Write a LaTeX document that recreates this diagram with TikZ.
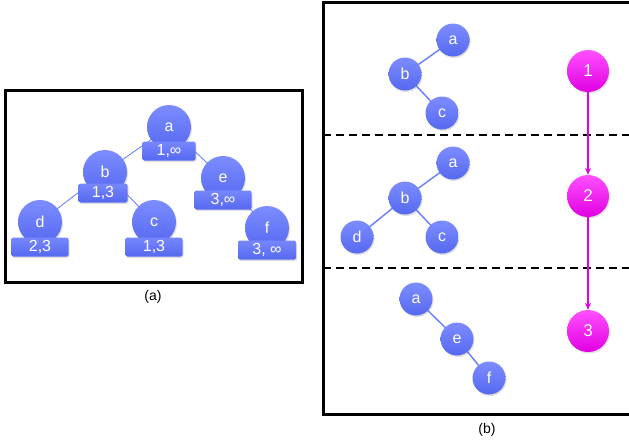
\documentclass[tikz,border=0pt]{standalone}
\usepackage{fontspec}
\setmainfont{Liberation Sans}
\usetikzlibrary{arrows.meta,shadows}
\definecolor{bltop}{RGB}{125,140,255}
\definecolor{blbot}{RGB}{85,105,240}
\definecolor{blline}{RGB}{110,130,250}
\definecolor{mgtop}{RGB}{255,80,255}
\definecolor{mgbot}{RGB}{225,0,225}
\tikzset{
  treenode/.style={circle,minimum size=#1,inner sep=0pt,top color=bltop,bottom color=blbot,
    draw=none,text=white,font=\fontsize{16}{16}\selectfont,
    drop shadow={opacity=0.25,shadow xshift=1pt,shadow yshift=-1.5pt}},
  treenode/.default=44pt,
  smallnode/.style={treenode=33pt,font=\fontsize{16}{16}\selectfont},
  tagbox/.style={rounded corners=2pt,minimum width=#1,minimum height=19pt,inner sep=0pt,
    top color=bltop!85!blbot,bottom color=blbot,draw=none,text=white,font=\fontsize{16}{16}\selectfont,
    drop shadow={opacity=0.25,shadow xshift=1pt,shadow yshift=-1.5pt}},
  tagbox/.default=53pt,
  stepnode/.style={circle,minimum size=42pt,inner sep=0pt,top color=mgtop,bottom color=mgbot,
    draw=none,text=white,font=\fontsize{17}{17}\selectfont,
    drop shadow={opacity=0.25,shadow xshift=1pt,shadow yshift=-1.5pt}},
  thinedge/.style={draw=blline,line width=0.9pt},
  edge/.style={draw=blline,line width=1.5pt},
  steparrow/.style={draw=mgbot,line width=1.5pt,-{Stealth[length=7pt,width=6pt]}},
  frame/.style={draw=black,line width=3pt},
  sep/.style={draw=black,line width=2.5pt,dash pattern=on 8pt off 5pt},
  caption/.style={font=\fontsize{14}{14}\selectfont,text=black}
}
\begin{document}
\begin{tikzpicture}[x=1pt,y=-1pt]
\useasboundingbox (0,0) rectangle (629,445);
% panel (a)
\node[caption] (capa) at (153,297) {(a)};
% tree edges (a)
\coordinate (pa) at (169,127);
\coordinate (pb) at (105,172);
\coordinate (pe) at (223,178);
\coordinate (pd) at (40,222);
\coordinate (pc) at (154,222);
\coordinate (pf) at (267,228);
\draw[thinedge] (pa) -- (pb);
\draw[thinedge] (pa) -- (pe);
\draw[thinedge] (pb) -- (pd);
\draw[thinedge] (pb) -- (pc);
\draw[thinedge] (pe) -- (pf);
\node[treenode] (na) at (pa) {a};
\node[treenode] (nb) at (pb) {b};
\node[treenode] (ne) at (pe) {e};
\node[treenode] (nd) at (pd) {d};
\node[treenode] (nc) at (pc) {c};
\node[treenode] (nf) at (pf) {f};
\node[tagbox] (ta) at (169,151) {1,∞};
\node[tagbox=49pt] (tb) at (103,193) {1,3};
\node[tagbox=57pt] (te) at (223,200) {3,∞};
\node[tagbox=57pt] (td) at (40,247) {2,3};
\node[tagbox=57pt] (tc) at (154,247) {1,3};
\node[tagbox=58pt] (tf) at (267,250) {3, ∞};
\draw[frame] (5,90) rectangle (302,282);
% panel (b)
\begin{scope}
\clip (0,0) rectangle (629,445);
\draw[frame] (323,2) rectangle (640,414);
\draw[sep] (323,135) -- (640,135);
\draw[sep] (323,268) -- (640,268);
\end{scope}
\node[caption] (capb) at (487,430) {(b)};
% top tree
\draw[edge] (453,40) -- (405,74) -- (442,113);
\node[smallnode] (ba1) at (453,40) {a};
\node[smallnode] (bb1) at (405,74) {b};
\node[smallnode] (bc1) at (442,113) {c};
% middle tree
\draw[edge] (453,163) -- (405,198) -- (442,237);
\draw[edge] (405,198) -- (357,237);
\node[smallnode] (ba2) at (453,163) {a};
\node[smallnode] (bb2) at (405,198) {b};
\node[smallnode] (bd2) at (357,237) {d};
\node[smallnode] (bc2) at (442,237) {c};
% bottom tree
\draw[edge] (416,299) -- (457,339) -- (489,378);
\node[smallnode] (ba3) at (416,299) {a};
\node[smallnode] (be3) at (457,339) {e};
\node[smallnode] (bf3) at (489,378) {f};
% steps
\node[stepnode] (s1) at (588,71) {1};
\node[stepnode] (s2) at (588,196) {2};
\node[stepnode] (s3) at (588,331) {3};
\draw[steparrow] (s1) -- (s2);
\draw[steparrow] (s2) -- (s3);
\end{tikzpicture}
\end{document}
